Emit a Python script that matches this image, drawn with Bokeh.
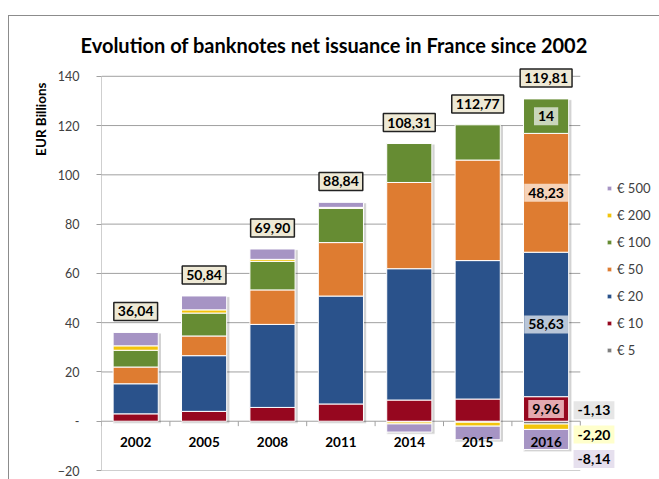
import numpy as np
from bokeh.plotting import figure
from bokeh.models import Range1d, FixedTicker, Label, Legend, LegendItem, ColumnDataSource, Title
from bokeh.core.properties import value
from bokeh.embed import file_html
from bokeh.resources import INLINE

# ---------------- data ----------------
years = ["2002", "2005", "2008", "2011", "2014", "2015", "2016"]
denoms = ["€ 5", "€ 10", "€ 20", "€ 50", "€ 100", "€ 200", "€ 500"]
eur5 = [0.0, 0.0, 0.0, 0.0, -0.30, -0.40, -1.13]
eur10 = [3.0, 4.0, 5.6, 7.0, 8.6, 9.0, 9.96]
eur20 = [12.2, 22.6, 33.7, 43.8, 53.3, 56.2, 58.63]
eur50 = [6.8, 8.0, 14.0, 21.7, 35.0, 40.8, 48.23]
eur100 = [6.8, 9.3, 11.6, 13.9, 15.81, 14.3, 14.0]
eur200 = [1.8, 1.3, 0.8, 0.4, -0.8, -1.6, -2.20]
eur500 = [5.44, 5.64, 4.2, 2.04, -3.3, -5.53, -8.14]
totals = [36.04, 50.84, 69.90, 88.84, 108.31, 112.77, 119.81]
y_ticks = [-20, 0, 20, 40, 60, 80, 100, 120, 140]

series = [eur5, eur10, eur20, eur50, eur100, eur200, eur500]
colors = ["#7F7F7F", "#96071F", "#2A528B", "#DE7C31", "#668C33", "#F2C40C", "#A694C4"]
label_bg = ["#E6E6E6", "#E4A8AF", "#B9C6D8", "#F6D3B9", "#CAD6BC", "#FFFFCC", "#E6E0EE"]

FONT = "Lato"
GRID = "#A0A0A0"
PX_PER_CAT = 68.4
FRAME_W = 558


def fmt(v):
    if float(v).is_integer():
        return str(int(v))
    return f"{v:.2f}".replace(".", ",")


n = len(years)
xs = np.arange(n)
x_lo, x_hi = -0.5, n - 0.5
y_lo, y_hi = y_ticks[0], y_ticks[-1]

# ---------------- figure ----------------
p = figure(
    output_backend="svg", toolbar_location=None,
    frame_width=FRAME_W, frame_height=409,
    min_border_left=92, min_border_right=0, min_border_top=45, min_border_bottom=9,
    x_range=Range1d(x_lo, x_lo + FRAME_W / PX_PER_CAT), y_range=Range1d(y_lo, 146),
    x_axis_location=None,
    title="Evolution of banknotes net issuance in  France since 2002",
)
p.styles = {"margin-left": "8px", "margin-top": "15px",
            "border-left": "1px solid #8C8C8C", "border-top": "1px solid #8C8C8C"}
p.outline_line_color = None
p.background_fill_color = "white"
p.border_fill_color = "white"

p.title.text_font = FONT
p.title.text_font_size = "20px"
p.title.text_font_style = "bold"
p.title.text_color = "black"
p.title.align = "left"
p.title.offset = -21
p.title.standoff = 10

p.xgrid.visible = False
p.ygrid.visible = False

ax = p.yaxis[0]
ax.ticker = FixedTicker(ticks=y_ticks)
ax.major_label_overrides = {0: "-"}
ax.major_label_text_font = FONT
ax.major_label_text_font_size = "12.5px"
ax.major_label_text_color = "#404040"
ax.major_tick_out = 5
ax.major_tick_in = 0
ax.minor_tick_out = 0
ax.minor_tick_in = 0
ax.major_tick_line_color = GRID
ax.axis_line_color = None
ax.major_label_standoff = 17

p.add_layout(Title(text="EUR Billions", align="right", text_font=FONT, text_font_size="13.5px",
                   text_font_style="bold", text_color="black", standoff=11, offset=21), "left")

# gridlines and axis line limited to the plot area
p.segment(x0=[x_lo] * len(y_ticks), y0=y_ticks, x1=[x_hi] * len(y_ticks), y1=y_ticks,
          line_color=GRID, line_width=1)
p.segment(x0=[x_lo], y0=[y_lo], x1=[x_lo], y1=[y_hi], line_color=GRID, line_width=1)

# ---------------- stacks ----------------
pos = np.zeros(n)
neg = np.zeros(n)
stacks = []
for vals in series:
    v = np.array(vals, dtype=float)
    bottom = np.where(v >= 0, pos, neg + v)
    top = np.where(v >= 0, pos + v, neg)
    pos = np.where(v >= 0, pos + v, pos)
    neg = np.where(v < 0, neg + v, neg)
    stacks.append((v, bottom, top))

# soft shadow
p.vbar(x=xs + 0.02, bottom=neg - 0.9, top=pos - 0.5, width=0.70,
       fill_color="#000000", fill_alpha=0.09, line_color=None)
p.vbar(x=xs + 0.03, bottom=neg - 0.6, top=pos - 0.3, width=0.68,
       fill_color="#000000", fill_alpha=0.09, line_color=None)

renderers = []
for (v, bottom, top), color in zip(stacks, colors):
    m = v != 0
    src = ColumnDataSource(dict(x=xs[m], bottom=bottom[m], top=top[m]))
    r = p.vbar(x="x", bottom="bottom", top="top", width=0.66, source=src,
               fill_color=color, line_color="white", line_width=1)
    renderers.append(r)

# zero-axis ticks between categories
bounds = np.arange(n + 1) - 0.5
p.segment(x0=bounds, y0=0, x1=bounds, y1=-2, line_color=GRID, line_width=1)

# category labels
p.text(x=xs, y=[-8.5] * n, text=years, text_align="center", text_baseline="middle",
       text_font=value(FONT), text_font_style="bold", text_font_size="13.5px", text_color="black")

# total labels
for i in range(n):
    p.add_layout(Label(x=xs[i], y=pos[i] + 8.5, text=fmt(totals[i]), text_align="center",
                       text_baseline="middle", text_font=FONT, text_font_style="bold",
                       text_font_size="14px", text_color="black",
                       background_fill_color="#EEE9D5", border_line_color="#222222",
                       border_line_width=1.5, padding=4))

# 2016 segment labels
last = n - 1
neg_y = 4.5
for k, (v, bottom, top) in enumerate(stacks):
    val = v[last]
    if val > 0:
        p.add_layout(Label(x=xs[last], y=(bottom[last] + top[last]) / 2, text=fmt(val),
                           text_align="center", text_baseline="middle", text_font=FONT,
                           text_font_style="bold", text_font_size="14px", text_color="black",
                           background_fill_color=label_bg[k], padding=4))
    elif val < 0:
        p.add_layout(Label(x=xs[last] + 0.70, y=neg_y, text=fmt(val),
                           text_align="center", text_baseline="middle", text_font=FONT,
                           text_font_style="bold", text_font_size="14px", text_color="black",
                           background_fill_color=label_bg[k], padding=4))
        neg_y -= 9.9

# legend
items = [LegendItem(label=denoms[k], renderers=[renderers[k]]) for k in range(len(denoms) - 1, -1, -1)]
legend = Legend(items=items, location=(505, 110), padding=0, margin=0,
                glyph_width=6, glyph_height=6, label_standoff=5, label_height=20, spacing=7,
                label_text_font=FONT, label_text_font_size="13px", label_text_color="#404040",
                border_line_color=None, background_fill_alpha=0)
p.add_layout(legend)

open("out.html", "w").write(file_html(p, INLINE))
